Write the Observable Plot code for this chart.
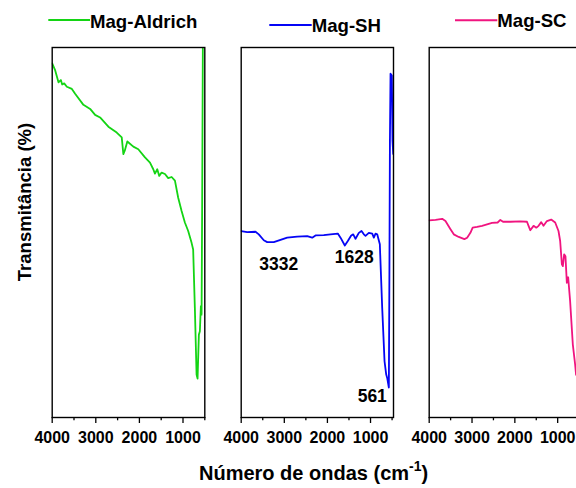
<!DOCTYPE html>
<html><head><meta charset="utf-8">
<script src="https://cdn.jsdelivr.net/npm/d3@7"></script>
<script src="https://cdn.jsdelivr.net/npm/@observablehq/plot@0.6"></script>
<style>
body{margin:0;background:#fff;overflow:hidden}
#fig{position:relative;width:576px;height:488px;overflow:hidden;background:#fff}
#fig > svg{position:absolute;top:0}
</style>
</head><body><div id="fig"></div>
<script>
// ---- data ----
const seriesNames = ["Mag-Aldrich", "Mag-SH", "Mag-SC"];
const seriesColors = ["#14d414", "#0505f5", "#f0147f"];

const wnAldrich = [4000,3931,3856,3801,3771,3725,3664,3549,3474,3284,3130,3016,2902,2712,2520,2405,2368,2336,2277,2139,2025,1872,1757,1682,1643,1590,1545,1490,1414,1339,1261,1185,1110,1032,957,881,803,767,728,689,666,636,613,590,574,561,545,535];
const tAldrich  = [95.7,93.8,90.6,91.2,90.0,90.3,89.4,88.8,87.5,84.5,83.4,81.8,81.1,78.6,77.0,75.7,71.2,72.1,74.6,73.2,72.5,70.3,68.9,67.1,65.9,67.1,65.3,66.2,65.8,64.7,65.0,64.0,59.4,55.8,52.7,50.4,47.2,45.4,29.6,11.6,10.5,22.4,23.3,30.1,27.8,56.7,100,115];

const wnSH = [4000,3861,3668,3592,3476,3397,3244,3088,2933,2701,2469,2353,2276,2084,1928,1759,1696,1596,1527,1448,1401,1348,1271,1209,1155,1116,1039,960,923,884,845,784,729,675,636,613,575,562,550,536,506,490,473];
const tSH  = [50.4,50.1,50.2,49.5,47.9,47.4,47.4,48.0,48.6,48.9,49.0,48.6,49.2,49.3,49.5,49.7,48.6,46.5,47.7,49.2,49.5,48.3,49.9,50.4,49.5,49.1,49.9,49.7,48.6,49.7,49.5,46.8,29.6,15.2,11.6,10.7,8.1,38.7,74.8,92.9,92.4,74.8,71.2];

const wnSC = [4000,3853,3697,3620,3503,3426,3311,3178,3114,3038,2985,2882,2766,2649,2533,2402,2339,2276,2106,1873,1717,1680,1640,1563,1500,1446,1384,1331,1251,1152,1058,981,942,902,879,849,818,786,755,709,646,592,570];
const tSC  = [53.3,53.4,53.7,53.1,50.9,49.5,48.8,48.2,48.6,49.9,51.3,51.5,51.8,52.2,52.6,52.7,53.4,52.9,52.9,53.0,52.9,51.8,50.6,51.8,51.3,51.8,52.8,51.8,53.1,53.5,52.7,50.4,47.7,41.4,40.9,44.1,43.6,36.4,37.9,31.4,19.7,14.3,11.5];

const peakLabels = ["3332", "1628", "561"];
const peakLabelX = [3128, 1376, 960];
const peakLabelY = [39.8, 41.8, 4.1];

const majorTicks = [4000, 3000, 2000, 1000];
const minorTicks = [3500, 2500, 1500, 500];

// ---- layout ----
const FONT = "'Liberation Sans', Arial, Helvetica, sans-serif";
const panels = [
  {wn: wnAldrich, t: tAldrich, left: 0,   width: 222, ml: 51.7, mr: 17.7, domain: [4000, 500]},
  {wn: wnSH,      t: tSH,      left: 222, width: 188, ml: 18.7, mr: 17,   domain: [4000, 467]},
  {wn: wnSC,      t: tSC,      left: 410, width: 166, ml: 18.7, mr: -4.3, domain: [4000, 460]}
];

const fig = document.getElementById("fig");

panels.forEach((p, k) => {
  const data = p.wn.map((w, i) => ({wn: w, t: p.t[i]}));
  const marks = [
    Plot.line(data, {x: "wn", y: "t", stroke: seriesColors[k], strokeWidth: 1.8, clip: true}),
    Plot.frame({stroke: "black", strokeWidth: 1.4}),
    Plot.axisX(majorTicks, {tickSize: 6, tickPadding: 8, label: null, strokeWidth: 1.3, tickFormat: d => String(d)}),
    Plot.axisX(minorTicks, {tickSize: 3.3, tickFormat: () => "", label: null, strokeWidth: 1.3})
  ];
  if (k === 1) {
    const ann = peakLabels.map((s, i) => ({s, x: peakLabelX[i], y: peakLabelY[i]}));
    marks.push(Plot.text(ann, {x: "x", y: "y", text: "s", lineAnchor: "bottom", textAnchor: "middle", fontSize: 17.5, fontWeight: "bold", fill: "black"}));
  }
  const svg = Plot.plot({
    width: p.width, height: 488,
    marginLeft: p.ml, marginRight: p.mr, marginTop: 47, marginBottom: 71,
    x: {domain: p.domain},
    y: {domain: [0, 100], axis: null},
    style: {fontFamily: FONT, fontSize: "16px", fontWeight: "bold", color: "black", background: "transparent", overflow: "hidden"},
    marks
  });
  svg.style.left = p.left + "px";
  fig.appendChild(svg);
});

// ---- legends and axis titles ----
const legendPos = [
  {x1: 48.3, x2: 90, ly: 20, tx: 90, ty: 28.3},
  {x1: 269.3, x2: 311.7, ly: 25, tx: 311.7, ty: 31.7},
  {x1: 455, x2: 497.3, ly: 20.3, tx: 497.3, ty: 26.5}
];
const NS = "http://www.w3.org/2000/svg";
const ov = document.createElementNS(NS, "svg");
ov.setAttribute("width", 576); ov.setAttribute("height", 488);
ov.style.left = "0px";
ov.style.fontFamily = FONT;
ov.style.fontWeight = "bold";
let html = "";
legendPos.forEach((l, k) => {
  html += `<line x1="${l.x1}" x2="${l.x2}" y1="${l.ly}" y2="${l.ly}" stroke="${seriesColors[k]}" stroke-width="2"/>`;
  html += `<text x="${l.tx}" y="${l.ty}" font-size="18.6" fill="black">${seriesNames[k]}</text>`;
});
html += `<text transform="translate(31,202) rotate(-90)" text-anchor="middle" font-size="18.5" fill="black">Transmitância (%)</text>`;
html += `<text x="199" y="480" font-size="20" fill="black">Número de ondas (cm<tspan font-size="14" dy="-9">-1</tspan><tspan dy="9">)</tspan></text>`;
ov.innerHTML = html;
fig.appendChild(ov);
</script>
</body></html>
